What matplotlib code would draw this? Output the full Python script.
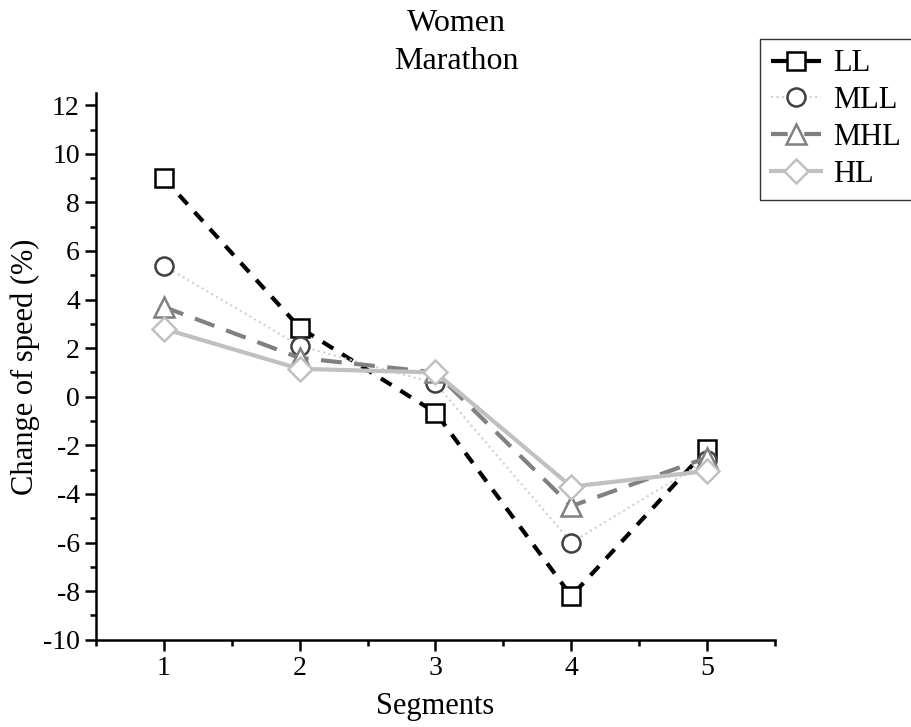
import numpy as np
import matplotlib
matplotlib.use("Agg")
import matplotlib.pyplot as plt
from matplotlib.ticker import MultipleLocator

plt.rcParams['font.family'] = ['Liberation Serif', 'DejaVu Serif']

segments = [1, 2, 3, 4, 5]
ll = [9.0, 2.85, -0.65, -8.2, -2.15]
mll = [5.4, 2.1, 0.55, -6.0, -2.6]
mhl = [3.7, 1.6, 1.0, -4.5, -2.5]
hl = [2.8, 1.15, 1.0, -3.7, -3.05]

fig = plt.figure(figsize=(9.12, 7.27), dpi=100)
ax = fig.add_axes([0.105, 0.12, 0.745, 0.752])

ms = 13
ax.plot(segments, ll, color='black', ls=(0, (3, 2.5)), lw=3, marker='s', ms=ms,
        mfc='white', mec='black', mew=1.8, label='LL')
ax.plot(segments, mll, color='#d0d0d0', ls=':', lw=1.5, marker='o', ms=ms,
        mfc='white', mec='#404040', mew=1.8, label='MLL')
ax.plot(segments, mhl, color='#808080', ls=(0, (5, 3)), lw=3, marker='^', ms=ms+1,
        mfc='white', mec='#808080', mew=1.8, label='MHL')
ax.plot(segments, hl, color='#c0c0c0', ls='-', lw=3, marker='D', ms=ms-1,
        mfc='white', mec='#c0c0c0', mew=1.8, label='HL')

ax.set_xlim(0.5, 5.5)
ax.set_ylim(-10, 12.5)
ax.xaxis.set_major_locator(MultipleLocator(1))
ax.xaxis.set_minor_locator(MultipleLocator(0.5))
ax.yaxis.set_major_locator(MultipleLocator(2))
ax.yaxis.set_minor_locator(MultipleLocator(1))
ax.spines['top'].set_visible(False)
ax.spines['right'].set_visible(False)
ax.spines['left'].set_linewidth(1.8)
ax.spines['bottom'].set_linewidth(1.8)
ax.tick_params(which='major', direction='out', length=8, width=1.8, labelsize=20)
ax.tick_params(which='minor', direction='out', length=4, width=1.8)
ax.set_yticks(np.arange(-10, 13, 2))
ax.set_yticklabels([str(v) for v in range(-10, 13, 2)])

ax.set_xlabel('Segments', fontsize=22, labelpad=8)
ax.set_ylabel('Change of speed (%)', fontsize=22, labelpad=2)
fig.text(0.5, 0.988, 'Women\nMarathon', ha='center', va='top', fontsize=23,
         linespacing=1.4)

leg = fig.legend(loc='upper right', bbox_to_anchor=(1.0, 0.947), fontsize=22,
                 frameon=True, fancybox=False, edgecolor='black',
                 handlelength=1.65, borderpad=0.35, labelspacing=0.26,
                 handletextpad=0.4, borderaxespad=0)
leg.get_frame().set_linewidth(1.0)
# dash pattern in the legend so each handle shows dash - marker - dash
leg.legend_handles[0].set_linestyle((0, (4, 4)))
leg.legend_handles[2].set_linestyle((0, (4, 4)))

fig.savefig('out.png', dpi=100)
